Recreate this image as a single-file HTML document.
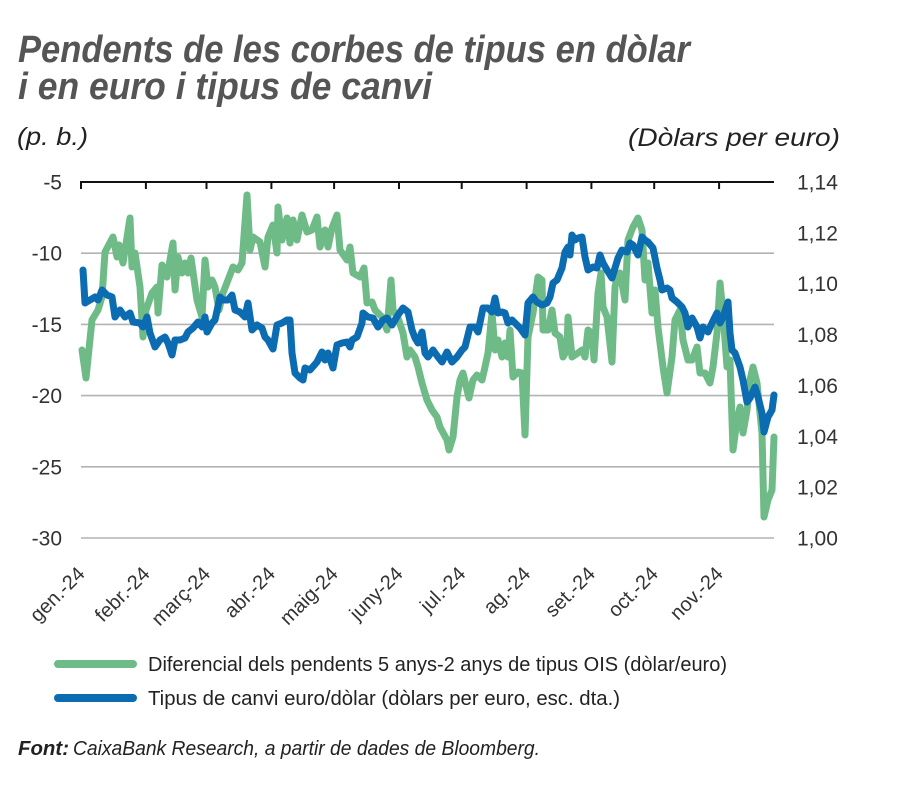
<!DOCTYPE html>
<html>
<head>
<meta charset="utf-8">
<style>
html,body{margin:0;padding:0;background:#fff;}
svg{display:block;}
text{font-family:"Liberation Sans",sans-serif;}
</style>
</head>
<body>
<svg width="900" height="789" viewBox="0 0 900 789" xmlns="http://www.w3.org/2000/svg">
<rect width="900" height="789" fill="#fff"/>
<!-- Title -->
<text x="18" y="62" font-size="38" font-weight="bold" font-style="italic" fill="#555" textLength="672" lengthAdjust="spacingAndGlyphs">Pendents de les corbes de tipus en dòlar</text>
<text x="18" y="99" font-size="38" font-weight="bold" font-style="italic" fill="#555" textLength="414" lengthAdjust="spacingAndGlyphs">i en euro i tipus de canvi</text>
<!-- Axis titles -->
<text x="17" y="145" font-size="25" font-style="italic" fill="#222" textLength="71" lengthAdjust="spacingAndGlyphs">(p. b.)</text>
<text x="628" y="146" font-size="25" font-style="italic" fill="#222" textLength="212" lengthAdjust="spacingAndGlyphs">(Dòlars per euro)</text>
<!-- Gridlines -->
<g stroke="#b3b3b3" stroke-width="1.6">
<line x1="81" y1="253.2" x2="774" y2="253.2"/>
<line x1="81" y1="324.4" x2="774" y2="324.4"/>
<line x1="81" y1="395.6" x2="774" y2="395.6"/>
<line x1="81" y1="466.8" x2="774" y2="466.8"/>
<line x1="81" y1="538" x2="774" y2="538"/>
</g>
<!-- Top axis with ticks -->
<g stroke="#111" stroke-width="2">
<line x1="80" y1="182" x2="774" y2="182"/>
<line x1="81" y1="182" x2="81" y2="189"/>
<line x1="145.9" y1="182" x2="145.9" y2="189"/>
<line x1="206.5" y1="182" x2="206.5" y2="189"/>
<line x1="271.4" y1="182" x2="271.4" y2="189"/>
<line x1="334.1" y1="182" x2="334.1" y2="189"/>
<line x1="399" y1="182" x2="399" y2="189"/>
<line x1="461.7" y1="182" x2="461.7" y2="189"/>
<line x1="526.6" y1="182" x2="526.6" y2="189"/>
<line x1="591.4" y1="182" x2="591.4" y2="189"/>
<line x1="654.2" y1="182" x2="654.2" y2="189"/>
<line x1="719.1" y1="182" x2="719.1" y2="189"/>
</g>
<!-- Left labels -->
<g font-size="21" fill="#333" text-anchor="end">
<text x="62" y="189.5">-5</text>
<text x="62" y="260.7">-10</text>
<text x="62" y="331.9">-15</text>
<text x="62" y="403.1">-20</text>
<text x="62" y="474.3">-25</text>
<text x="62" y="545.5">-30</text>
</g>
<!-- Right labels -->
<g font-size="21" fill="#333">
<text x="797" y="189.5">1,14</text>
<text x="797" y="240.4">1,12</text>
<text x="797" y="291.2">1,10</text>
<text x="797" y="342.1">1,08</text>
<text x="797" y="392.9">1,06</text>
<text x="797" y="443.8">1,04</text>
<text x="797" y="494.6">1,02</text>
<text x="797" y="545.5">1,00</text>
</g>
<!-- X labels -->
<g font-size="20" fill="#333" text-anchor="end">
<text transform="translate(86,575) rotate(-45)">gen.-24</text>
<text transform="translate(151,575) rotate(-45)">febr.-24</text>
<text transform="translate(211.5,575) rotate(-45)">març-24</text>
<text transform="translate(276.4,575) rotate(-45)">abr.-24</text>
<text transform="translate(339.1,575) rotate(-45)">maig-24</text>
<text transform="translate(404,575) rotate(-45)">juny-24</text>
<text transform="translate(466.7,575) rotate(-45)">jul.-24</text>
<text transform="translate(531.6,575) rotate(-45)">ag.-24</text>
<text transform="translate(596.4,575) rotate(-45)">set.-24</text>
<text transform="translate(659.2,575) rotate(-45)">oct.-24</text>
<text transform="translate(724.1,575) rotate(-45)">nov.-24</text>
</g>
<!-- Green series -->
<polyline fill="none" stroke="#6fbb88" stroke-width="7" stroke-linejoin="round" stroke-linecap="round" points="
82,350 86,378 92,320 98,310 102,297 105,252 113,237 117,257 119,245 123,263 130,218 132,267 135,253 140,287 143,337 146,310 152,293 157,287 158,313 162,265 167,277 173,243 175,290 178,257 182,273 185,263 188,273 191,258 197,300 202,317 205,260 208,287 212,280 215,287 219,310 223,293 228,280 233,267 238,270 242,263 247,195 250,250 253,237 260,242 265,267 268,237 273,225 277,253 278,207 282,240 287,218 290,243 293,220 297,240 302,215 307,232 312,230 317,217 320,247 325,230 328,247 332,228 337,215 340,250 347,260 350,247 353,273 360,277 364,268 367,303 372,302 375,310 382,317 387,330 391,280 393,310 398,318 403,333 407,357 410,350 415,357 418,367 422,383 427,400 432,410 437,417 440,427 447,440 449,450 453,437 457,397 460,380 463,373 467,390 469,398 473,380 477,375 482,380 485,367 488,353 492,313 495,350 498,340 502,357 505,343 508,357 510,330 513,377 518,372 522,373 525,435 528,337 533,313 538,277 542,280 543,330 548,330 552,310 555,333 560,337 563,357 567,350 568,317 572,357 578,353 582,350 585,357 588,330 592,333 594,360 598,293 601,273 603,307 607,317 612,362 615,287 617,277 620,273 625,300 628,240 633,227 638,218 642,230 645,280 648,263 652,313 655,290 658,327 663,367 667,393 672,357 675,320 680,310 683,340 688,360 692,360 697,347 700,373 705,373 710,383 713,367 717,333 720,283 723,313 727,367 730,360 733,450 737,420 740,407 743,433 747,410 750,380 753,367 757,383 762,433 764,517 768,500 772,490 774,437"/>
<!-- Blue series -->
<polyline fill="none" stroke="#0b6cb2" stroke-width="7" stroke-linejoin="round" stroke-linecap="round" points="
83,270 85,303 90,300 95,297 98,300 102,290 107,295 112,297 115,317 120,310 125,317 130,313 133,322 140,323 143,327 147,317 150,333 155,347 160,340 165,337 168,343 172,355 175,340 180,340 185,338 188,332 193,328 198,322 202,327 205,317 207,332 212,323 215,320 220,297 223,300 228,300 232,295 235,310 240,312 245,317 248,303 252,330 257,325 262,328 265,337 268,340 273,349 277,325 282,323 287,320 290,320 292,353 295,373 300,378 303,380 305,368 310,370 317,362 322,352 325,360 328,353 333,368 337,345 342,343 347,342 350,347 352,340 357,337 362,323 363,313 368,317 373,318 378,327 383,320 387,318 392,325 395,320 398,315 403,308 408,312 412,330 415,338 418,343 422,332 425,353 428,357 433,350 438,357 442,362 447,352 452,362 457,357 462,350 465,347 470,327 475,327 478,332 483,308 488,308 492,312 495,298 498,313 502,312 505,313 508,323 512,320 515,323 520,328 525,335 528,303 533,297 537,302 542,305 547,303 550,297 553,283 557,280 562,268 565,252 568,247 570,255 572,235 575,240 578,238 582,237 585,257 588,270 593,267 597,268 600,255 603,263 607,270 612,278 615,268 618,258 622,250 627,252 630,243 633,245 638,255 642,237 645,240 648,242 653,248 657,268 660,280 662,290 667,288 670,290 672,298 677,302 682,307 685,313 688,327 692,318 697,327 700,338 703,327 708,332 712,323 717,313 720,323 723,317 728,302 730,333 732,350 735,353 740,367 743,380 747,402 750,398 755,387 758,397 762,413 764,432 768,417 772,410 774,395"/>
<!-- Legend -->
<line x1="58" y1="664" x2="133" y2="664" stroke="#6fbb88" stroke-width="8" stroke-linecap="round"/>
<line x1="58" y1="698" x2="133" y2="698" stroke="#0b6cb2" stroke-width="8" stroke-linecap="round"/>
<text x="148" y="671" font-size="20" fill="#222" textLength="579" lengthAdjust="spacingAndGlyphs">Diferencial dels pendents 5 anys-2 anys de tipus OIS (dòlar/euro)</text>
<text x="148" y="705" font-size="20" fill="#222" textLength="472" lengthAdjust="spacingAndGlyphs">Tipus de canvi euro/dòlar (dòlars per euro, esc. dta.)</text>
<!-- Footer -->
<text x="18" y="755" font-size="20" font-style="italic" fill="#222"><tspan font-weight="bold" textLength="51" lengthAdjust="spacingAndGlyphs">Font:</tspan><tspan x="73" textLength="467" lengthAdjust="spacingAndGlyphs">CaixaBank Research, a partir de dades de Bloomberg.</tspan></text>
</svg>
</body>
</html>
